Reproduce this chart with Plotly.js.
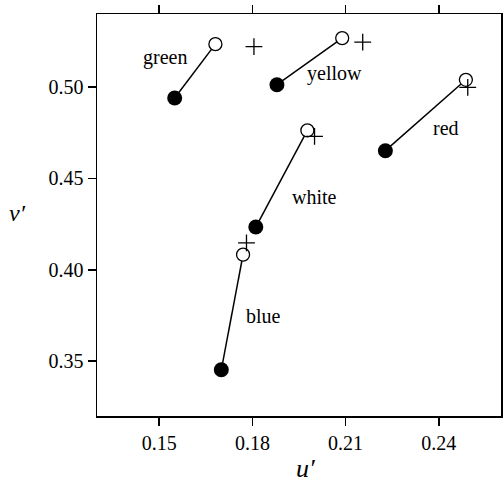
<!DOCTYPE html>
<html>
<head>
<meta charset="utf-8">
<script src="https://cdn.plot.ly/plotly-3.0.1.min.js"></script>
<style>html,body{margin:0;padding:0;background:#fff;}#chart{width:503px;height:491px;}</style>
</head>
<body>
<div id="chart"></div>
<script>
// Categories and values (u', v')
const colorNames = ["green", "yellow", "red", "white", "blue"];
const filledU = [0.1550, 0.1879, 0.2228, 0.1811, 0.1700];
const filledV = [0.4940, 0.5013, 0.4652, 0.4234, 0.3453];
const openU   = [0.1681, 0.2089, 0.2487, 0.1977, 0.1770];
const openV   = [0.5235, 0.5268, 0.5040, 0.4763, 0.4083];
const plusU   = [0.1805, 0.2155, 0.2493, 0.2000, 0.1781];
const plusV   = [0.5222, 0.5246, 0.4998, 0.4730, 0.4147];
const labelU  = [0.1519, 0.2064, 0.2423, 0.2000, 0.1835];
const labelV  = [0.5163, 0.5077, 0.4776, 0.4398, 0.3745];
const xTicks = [0.15, 0.18, 0.21, 0.24];
const yTicks = [0.35, 0.40, 0.45, 0.50];

const FONT = "Liberation Serif";
const traces = [];
colorNames.forEach((name, i) => {
  traces.push({
    type: "scatter", mode: "lines",
    x: [filledU[i], openU[i]], y: [filledV[i], openV[i]],
    line: {color: "#000", width: 1.5},
    hoverinfo: "skip", showlegend: false
  });
});
traces.push({
  type: "scatter", mode: "markers",
  x: filledU, y: filledV,
  marker: {symbol: "circle", size: 15, color: "#000", opacity: 1, line: {color: "#000", width: 0}},
  hoverinfo: "skip", showlegend: false
});
traces.push({
  type: "scatter", mode: "markers",
  x: openU, y: openV,
  marker: {symbol: "circle", size: 13, color: "#fff", opacity: 1, line: {color: "#000", width: 1.3}},
  hoverinfo: "skip", showlegend: false
});
traces.push({
  type: "scatter", mode: "markers",
  x: plusU, y: plusV,
  marker: {symbol: "cross-thin", size: 12, line: {color: "#000", width: 1.3}},
  hoverinfo: "skip", showlegend: false
});

const annotations = colorNames.map((name, i) => ({
  x: labelU[i], y: labelV[i], xref: "x", yref: "y", text: name,
  xanchor: "center", yanchor: "middle",
  showarrow: false, font: {family: FONT, size: 20, color: "#000"}
}));
annotations.push({
  xref: "paper", yref: "paper", x: -0.198, y: 0.505, text: "<i>v′</i>",
  xanchor: "center", yanchor: "middle",
  showarrow: false, font: {family: FONT, size: 24, color: "#000"}
});
annotations.push({
  xref: "paper", yref: "paper", x: 0.517, y: -0.13, text: "<i>u′</i>",
  xanchor: "center", yanchor: "middle",
  showarrow: false, font: {family: FONT, size: 26, color: "#000"}
});

const layout = {
  width: 503, height: 491,
  margin: {l: 97, r: 2, t: 14, b: 75},
  paper_bgcolor: "#fff", plot_bgcolor: "#fff",
  font: {family: FONT, color: "#000"},
  xaxis: {
    range: [0.13, 0.26], tickvals: xTicks, ticktext: xTicks.map(v => v.toFixed(2)),
    ticks: "outside", ticklen: 8, tickwidth: 1.5, tickcolor: "#000",
    showline: true, linecolor: "#000", linewidth: 1.5, mirror: "ticks",
    showgrid: false, zeroline: false,
    tickfont: {family: FONT, size: 20, color: "#000"}
  },
  yaxis: {
    range: [0.32, 0.54], tickvals: yTicks, ticktext: yTicks.map(v => v.toFixed(2)),
    ticks: "outside", ticklen: 8, tickwidth: 1.5, tickcolor: "#000",
    showline: true, linecolor: "#000", linewidth: 1.5, mirror: "ticks",
    showgrid: false, zeroline: false,
    tickfont: {family: FONT, size: 20, color: "#000"}
  },
  annotations: annotations,
  showlegend: false
};
Plotly.newPlot("chart", traces, layout, {staticPlot: true, displayModeBar: false});
</script>
</body>
</html>
